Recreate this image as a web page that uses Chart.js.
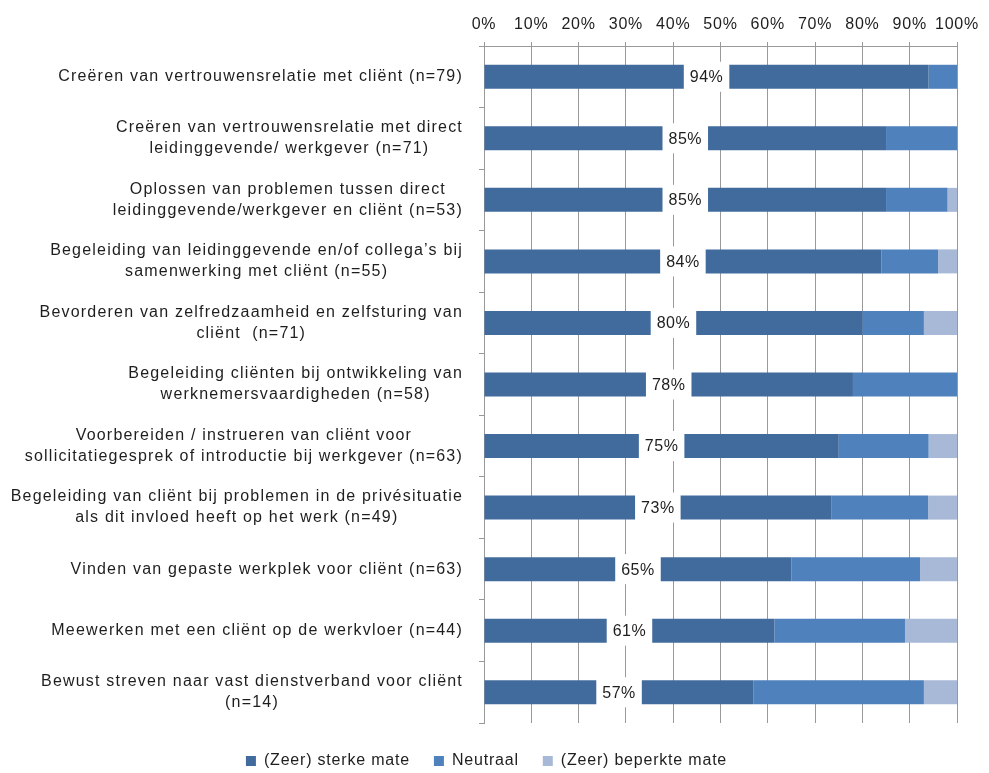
<!DOCTYPE html>
<html>
<head>
<meta charset="utf-8">
<script src="https://cdn.jsdelivr.net/npm/chart.js@4/dist/chart.umd.min.js"></script>
<style>
  html, body { margin: 0; background: #fff; }
  #wrap { width: 989px; height: 773px; }
</style>
</head>
<body>
<div id="wrap"><canvas id="chart" width="989" height="773"></canvas></div>
<script>
// categories (multi-line labels)
const categories = [
    ['Creëren van vertrouwensrelatie met cliënt (n=79)'],
    ['Creëren van vertrouwensrelatie met direct', 'leidinggevende/ werkgever (n=71)'],
    ['Oplossen van problemen tussen direct', 'leidinggevende/werkgever en cliënt (n=53)'],
    ['Begeleiding van leidinggevende en/of collega’s bij', 'samenwerking met cliënt (n=55)'],
    ['Bevorderen van zelfredzaamheid en zelfsturing van', 'cliënt  (n=71)'],
    ['Begeleiding cliënten bij ontwikkeling van', 'werknemersvaardigheden (n=58)'],
    ['Voorbereiden / instrueren van cliënt voor', 'sollicitatiegesprek of introductie bij werkgever (n=63)'],
    ['Begeleiding van cliënt bij problemen in de privésituatie', 'als dit invloed heeft op het werk (n=49)'],
    ['Vinden van gepaste werkplek voor cliënt (n=63)'],
    ['Meewerken met een cliënt op de werkvloer (n=44)'],
    ['Bewust streven naar vast dienstverband voor cliënt', '(n=14)']
];

const sterk    = [94, 85, 85, 84, 80, 78, 75, 73.4, 65, 61.4, 57];
const neutraal = [6, 15, 13, 12, 13, 22, 19, 20.5, 27.2, 27.6, 36];
const beperkt  = [0, 0, 2, 4, 7, 0, 6, 6.1, 7.8, 11, 7];

const seriesNames = ['(Zeer) sterke mate', 'Neutraal', '(Zeer) beperkte mate'];

const darkBlue = '#416b9d';
const midBlue = '#4f81bd';
const lightBlue = '#a8b9d8';
const gridGrey = '#999999';
const textColor = '#1e1e1e';
const fontFamily = "'Liberation Sans', Arial, sans-serif";
const spacing = '0.8px';      // ticks + legend
const labelSpacing = '1.2px'; // category labels

// slightly wider letter spacing, closer to the original rendering
const letterSpacing = {
    id: 'letterSpacing',
    beforeUpdate(chart) { chart.ctx.letterSpacing = spacing; },
    beforeDraw(chart) { chart.ctx.letterSpacing = spacing; }
};

// category labels: block right-aligned, lines centred within the block
const categoryLabels = {
    id: 'categoryLabels',
    afterDraw(chart) {
        const ctx = chart.ctx;
        const yScale = chart.scales.y;
        const right = chart.chartArea.left - 21;
        const lineH = 21;
        ctx.save();
        ctx.letterSpacing = labelSpacing;
        ctx.font = '16px ' + fontFamily;
        ctx.fillStyle = textColor;
        ctx.textAlign = 'center';
        ctx.textBaseline = 'middle';
        categories.forEach((lines, i) => {
            const cy = yScale.getPixelForValue(i);
            const maxW = Math.max(...lines.map(l => ctx.measureText(l).width));
            const cx = right - maxW / 2;
            lines.forEach((l, j) => {
                ctx.fillText(l, cx, cy + (j - (lines.length - 1) / 2) * lineH);
            });
        });
        ctx.restore();
    }
};

// white boxed percentage on the first segment
const segmentLabels = {
    id: 'segmentLabels',
    afterDatasetsDraw(chart) {
        const ctx = chart.ctx;
        const meta = chart.getDatasetMeta(0);
        ctx.save();
        ctx.letterSpacing = '0.5px';
        ctx.font = '16px ' + fontFamily;
        ctx.textAlign = 'center';
        ctx.textBaseline = 'middle';
        meta.data.forEach((bar, i) => {
            const cx = (bar.x + bar.base) / 2;
            const txt = Math.round(sterk[i]) + '%';
            const w = ctx.measureText(txt).width + 12;
            ctx.fillStyle = '#fff';
            ctx.fillRect(cx - w / 2, bar.y - 15, w, 30);
            ctx.fillStyle = textColor;
            ctx.fillText(txt, cx, bar.y + 1);
        });
        ctx.restore();
    }
};

// fix legend height and nudge it down a little
const legendTweak = {
    id: 'legendTweak',
    afterInit(chart) {
        const legend = chart.legend;
        if (!legend) return;
        const fit = legend.fit;
        legend.fit = function () {
            fit.call(this);
            this.height = 50;
        };
        const draw = legend.draw;
        legend.draw = function () {
            this.ctx.save();
            this.ctx.translate(0, 6);
            draw.call(this);
            this.ctx.restore();
        };
    }
};

new Chart(document.getElementById('chart'), {
    type: 'bar',
    data: {
        labels: categories,
        datasets: [
            { label: seriesNames[0], data: sterk, backgroundColor: darkBlue },
            { label: seriesNames[1], data: neutraal, backgroundColor: midBlue },
            { label: seriesNames[2], data: beperkt, backgroundColor: lightBlue }
        ]
    },
    options: {
        indexAxis: 'y',
        responsive: false,
        animation: false,
        barPercentage: 0.39,
        categoryPercentage: 1,
        layout: { padding: { left: 16, right: 32, top: 0, bottom: 0 } },
        plugins: {
            tooltip: { enabled: false },
            legend: {
                position: 'bottom',
                labels: {
                    boxWidth: 10,
                    boxHeight: 10,
                    padding: 24,
                    color: textColor,
                    font: { size: 16, family: fontFamily }
                }
            }
        },
        scales: {
            x: {
                position: 'top',
                stacked: true,
                min: 0,
                max: 100,
                ticks: {
                    stepSize: 10,
                    autoSkip: false,
                    maxRotation: 0,
                    minRotation: 0,
                    callback: v => v + '%',
                    color: textColor,
                    padding: 8,
                    font: { size: 16, family: fontFamily }
                },
                grid: { color: gridGrey, tickLength: 4 },
                border: { color: gridGrey },
                afterFit: s => { s.height = 46; }
            },
            y: {
                stacked: true,
                ticks: { display: false },
                grid: { drawOnChartArea: false, color: gridGrey, tickLength: 5 },
                border: { color: gridGrey },
                afterFit: s => { s.width = 468; }
            }
        }
    },
    plugins: [letterSpacing, categoryLabels, segmentLabels, legendTweak]
});
</script>
</body>
</html>
